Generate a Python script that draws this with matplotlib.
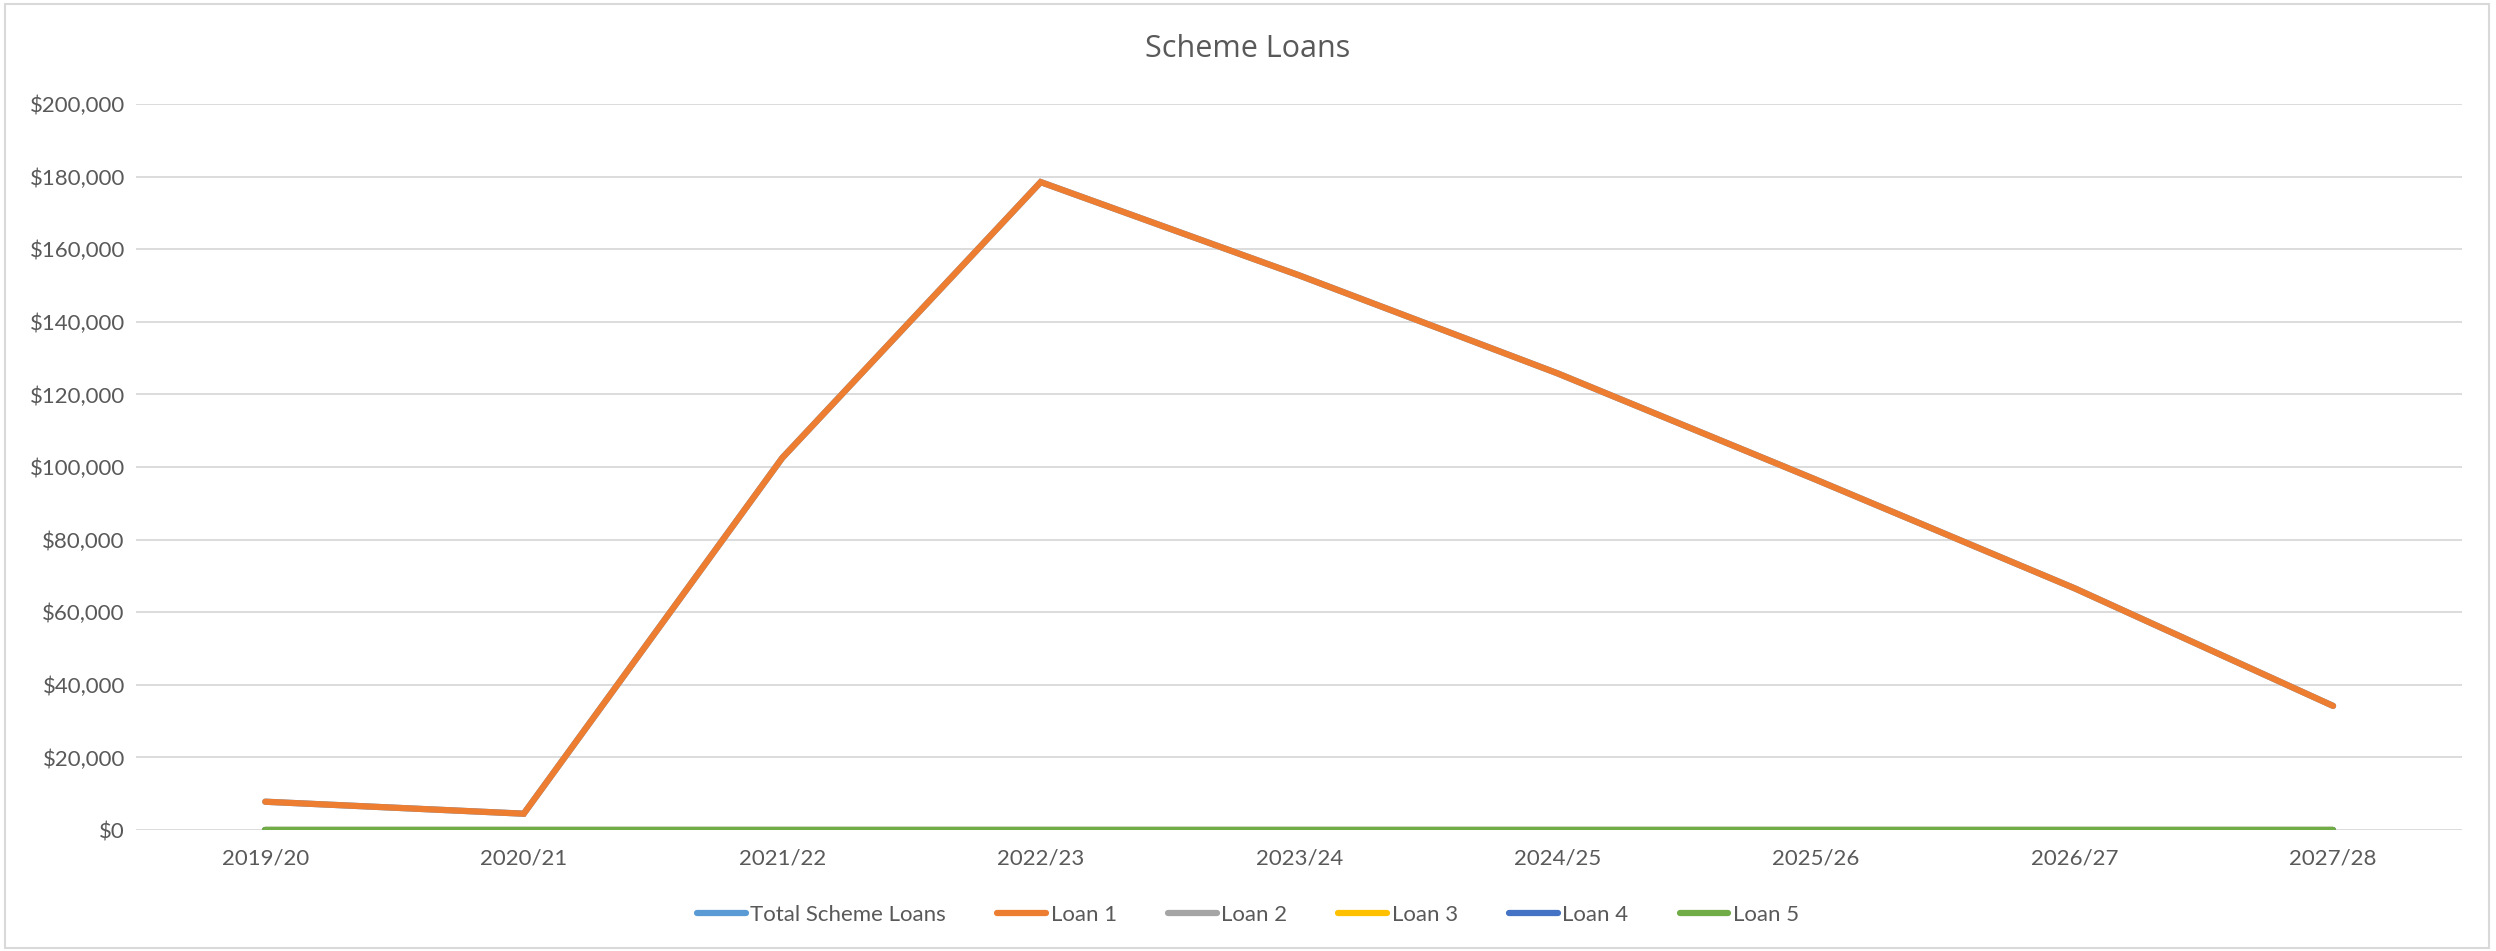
import matplotlib
matplotlib.use("Agg")
import matplotlib.pyplot as plt
from matplotlib.ticker import FuncFormatter
from matplotlib.patches import Rectangle

years = ["2019/20", "2020/21", "2021/22", "2022/23", "2023/24",
         "2024/25", "2025/26", "2026/27", "2027/28"]
loan1 = [7800, 4500, 102500, 178500, 152800, 125800, 96500, 66600, 34200]
loan2 = [0, 0, 0, 0, 0, 0, 0, 0, 0]
loan3 = [0, 0, 0, 0, 0, 0, 0, 0, 0]
loan4 = [0, 0, 0, 0, 0, 0, 0, 0, 0]
loan5 = [0, 0, 0, 0, 0, 0, 0, 0, 0]
total = [a + b + c + d + e for a, b, c, d, e in zip(loan1, loan2, loan3, loan4, loan5)]

names = ["Total Scheme Loans", "Loan 1", "Loan 2", "Loan 3", "Loan 4", "Loan 5"]
colors = ["#5B9BD5", "#ED7D31", "#A5A5A5", "#FFC000", "#4472C4", "#70AD47"]
series = [total, loan1, loan2, loan3, loan4, loan5]

plt.rcParams['font.family'] = ['Lato', 'DejaVu Sans']
txt = "#595959"

fig = plt.figure(figsize=(24.96, 9.51), dpi=100)
ax = fig.add_axes([0.0545, 0.1272, 0.932, 0.7634])

x = range(len(years))
for s, name, c in zip(series, names, colors):
    ax.plot(x, s, color=c, lw=4.5, label=name, solid_capstyle="round", solid_joinstyle="miter")

ax.set_xlim(-0.5, len(years) - 0.5)
ax.set_ylim(0, 200000)
ax.set_yticks(range(0, 200001, 20000))
ax.yaxis.set_major_formatter(FuncFormatter(lambda v, p: "${:,.0f}".format(v)))
ax.set_xticks(list(x))
ax.set_xticklabels(years)
ax.grid(axis="y", color="#D9D9D9", lw=1.3)
ax.set_axisbelow(True)
for sp in ax.spines.values():
    sp.set_visible(False)
ax.tick_params(length=0, labelsize=16, labelcolor=txt)
ax.tick_params(axis="x", pad=13)
ax.tick_params(axis="y", pad=8)

fig.text(0.5, 0.948, "Scheme Loans", ha="center", va="center", fontsize=22,
         color=txt, family=["Open Sans", "DejaVu Sans"])

leg = fig.legend(loc="center", bbox_to_anchor=(0.5, 0.038), ncol=6, frameon=False,
                 fontsize=16, handlelength=2.2, columnspacing=2.3, handletextpad=0.2)
for t in leg.get_texts():
    t.set_color(txt)

fig.patches.append(Rectangle((0.002, 0.003), 0.995, 0.993, transform=fig.transFigure,
                             fill=False, edgecolor="#D9D9D9", lw=1.5))

plt.savefig("out.png")
